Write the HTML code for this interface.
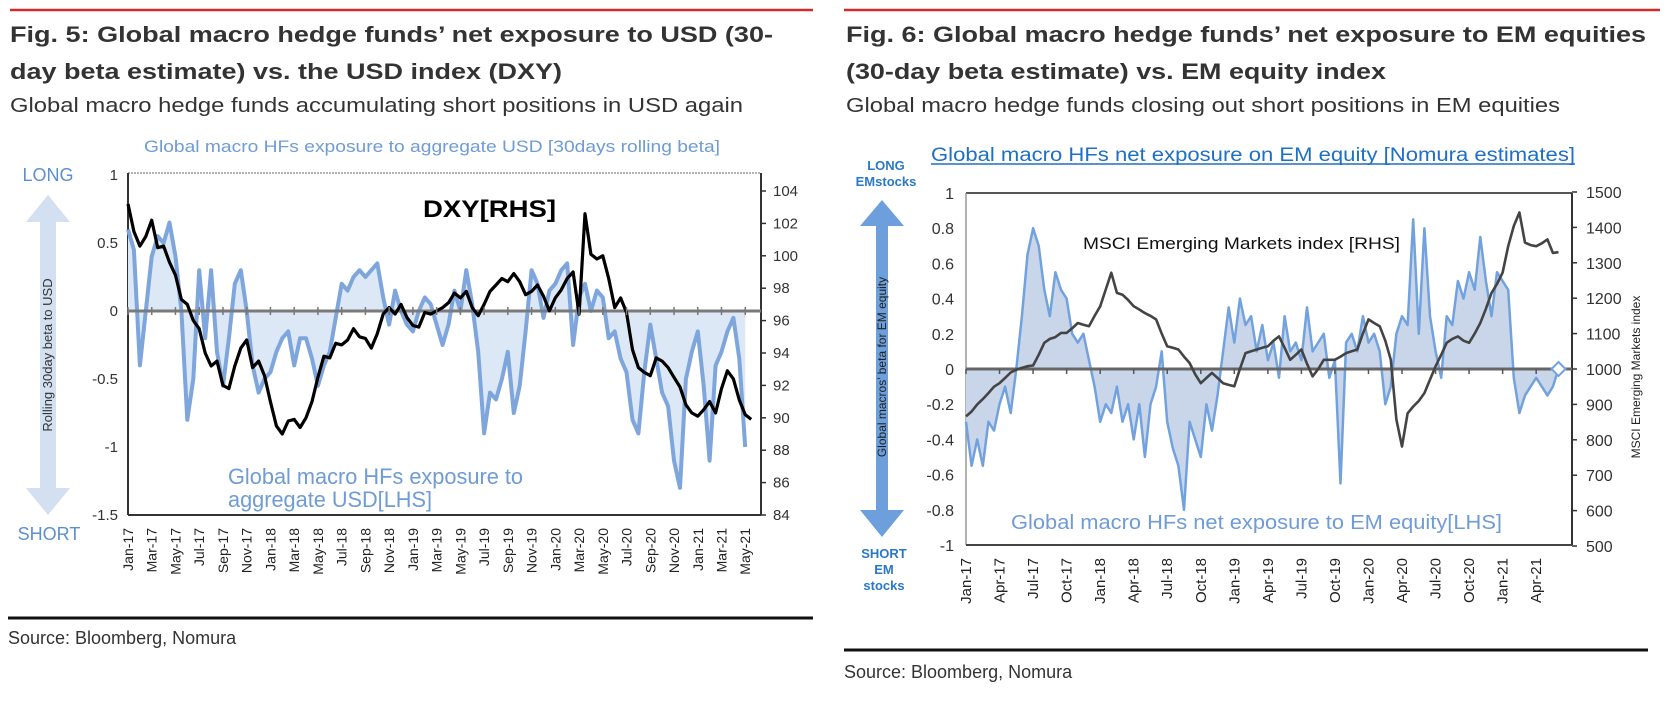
<!DOCTYPE html>
<html><head><meta charset="utf-8"><style>
html,body{margin:0;padding:0;background:#fff;}
svg{display:block;font-family:"Liberation Sans",Arial,sans-serif;}
</style></head><body>
<svg id="root" width="1668" height="702" viewBox="0 0 1668 702" xmlns="http://www.w3.org/2000/svg">
<line x1="10" y1="10" x2="813" y2="10" stroke="#d42a2a" stroke-width="2.5"/>
<text x="10" y="42" font-size="22" font-weight="bold" fill="#333" textLength="763" lengthAdjust="spacingAndGlyphs">Fig. 5: Global macro hedge funds’ net exposure to USD (30-</text>
<text x="10" y="79" font-size="22" font-weight="bold" fill="#333" textLength="552" lengthAdjust="spacingAndGlyphs">day beta estimate) vs. the USD index (DXY)</text>
<text x="10" y="112" font-size="20" fill="#333" textLength="733" lengthAdjust="spacingAndGlyphs">Global macro hedge funds accumulating short positions in USD again</text>
<line x1="844" y1="10" x2="1660" y2="10" stroke="#d42a2a" stroke-width="2.5"/>
<text x="846" y="42" font-size="22" font-weight="bold" fill="#333" textLength="800" lengthAdjust="spacingAndGlyphs">Fig. 6: Global macro hedge funds’ net exposure to EM equities</text>
<text x="846" y="79" font-size="22" font-weight="bold" fill="#333" textLength="540" lengthAdjust="spacingAndGlyphs">(30-day beta estimate) vs. EM equity index</text>
<text x="846" y="112" font-size="20" fill="#333" textLength="714" lengthAdjust="spacingAndGlyphs">Global macro hedge funds closing out short positions in EM equities</text>

<g id="c1"></g>
<g id="c2"></g>

<line x1="8" y1="618" x2="813" y2="618" stroke="#111" stroke-width="3"/>
<text x="8" y="644" font-size="18" fill="#333">Source: Bloomberg, Nomura</text>
<line x1="844" y1="650" x2="1648" y2="650" stroke="#111" stroke-width="3"/>
<text x="844" y="678" font-size="18" fill="#333">Source: Bloomberg, Nomura</text>
</svg>
<script>
const c1Labels = ["Jan-17","Mar-17","May-17","Jul-17","Sep-17","Nov-17","Jan-18","Mar-18","May-18","Jul-18","Sep-18","Nov-18","Jan-19","Mar-19","May-19","Jul-19","Sep-19","Nov-19","Jan-20","Mar-20","May-20","Jul-20","Sep-20","Nov-20","Jan-21","Mar-21","May-21"];
const c1LeftTicks = [1,0.5,0,-0.5,-1,-1.5];
const c1LeftTickText = ["1","0.5","0","-0.5","-1","-1.5"];
const c1RightTicks = [104,102,100,98,96,94,92,90,88,86,84];
const c1Beta = [0.6,0.45,-0.4,0.0,0.4,0.55,0.5,0.65,0.4,0.0,-0.8,-0.5,0.3,-0.2,0.3,-0.3,-0.55,-0.2,0.2,0.3,0.0,-0.4,-0.6,-0.5,-0.45,-0.3,-0.2,-0.15,-0.4,-0.2,-0.2,-0.35,-0.55,-0.4,-0.3,-0.05,0.2,0.15,0.25,0.3,0.25,0.3,0.35,0.1,-0.1,0.15,0.0,-0.1,-0.15,0.0,0.1,0.05,-0.1,-0.25,-0.1,0.15,0.0,0.3,0.05,-0.3,-0.9,-0.6,-0.65,-0.5,-0.3,-0.75,-0.55,-0.15,0.3,0.2,-0.05,0.15,0.2,0.3,0.35,-0.25,0.1,0.2,0.0,0.15,0.1,-0.2,-0.15,-0.35,-0.45,-0.8,-0.9,-0.45,-0.1,-0.35,-0.6,-0.7,-1.1,-1.3,-0.5,-0.3,-0.15,-0.55,-1.1,-0.4,-0.3,-0.15,-0.05,-0.35,-1.0];
const c1Dxy = [103.2,101.5,100.6,101.2,102.2,100.5,100.6,99.6,98.8,97.3,97.0,96.0,95.5,94.0,93.2,93.5,92.0,91.8,93.2,94.3,94.8,93.1,93.5,92.6,91.0,89.5,89.0,89.8,89.9,89.4,90.0,91.0,92.5,93.8,93.7,94.6,94.5,94.8,95.5,95.0,94.9,94.3,95.2,96.4,96.8,96.4,97.0,96.2,95.7,95.6,96.5,96.4,96.6,96.8,97.1,97.7,97.4,97.8,96.8,96.3,97.0,97.8,98.2,98.6,98.4,98.9,98.4,97.6,97.8,98.2,97.5,96.6,97.4,97.9,98.6,99.0,96.4,102.6,100.1,99.8,100.0,98.6,96.8,97.4,96.5,94.2,93.1,92.8,92.6,93.7,93.5,93.1,92.5,91.9,90.8,90.3,90.1,90.5,91.0,90.3,91.8,92.9,92.4,91.1,90.2,89.9];

const c2Labels = ["Jan-17","Apr-17","Jul-17","Oct-17","Jan-18","Apr-18","Jul-18","Oct-18","Jan-19","Apr-19","Jul-19","Oct-19","Jan-20","Apr-20","Jul-20","Oct-20","Jan-21","Apr-21"];
const c2LeftTicks = [1,0.8,0.6,0.4,0.2,0,-0.2,-0.4,-0.6,-0.8,-1];
const c2LeftTickText = ["1","0.8","0.6","0.4","0.2","0","-0.2","-0.4","-0.6","-0.8","-1"];
const c2RightTicks = [1500,1400,1300,1200,1100,1000,900,800,700,600,500];
const c2Beta = [-0.3,-0.55,-0.4,-0.55,-0.3,-0.35,-0.2,-0.1,-0.25,0.0,0.3,0.65,0.8,0.7,0.45,0.3,0.55,0.45,0.4,0.2,0.15,0.2,0.05,-0.1,-0.3,-0.2,-0.25,-0.1,-0.3,-0.2,-0.4,-0.2,-0.5,-0.2,-0.1,0.1,-0.3,-0.45,-0.55,-0.8,-0.3,-0.4,-0.5,-0.2,-0.35,-0.15,0.1,0.35,0.15,0.4,0.25,0.3,0.1,0.25,0.05,0.15,-0.05,0.3,0.1,0.15,0.05,0.35,0.1,0.15,0.2,-0.05,0.05,-0.65,0.15,0.2,0.1,0.3,0.15,0.2,0.1,-0.2,-0.1,0.2,0.3,0.25,0.85,0.2,0.8,0.3,0.1,-0.05,0.3,0.25,0.5,0.4,0.55,0.45,0.75,0.5,0.3,0.55,0.5,0.45,-0.05,-0.25,-0.15,-0.1,-0.05,-0.1,-0.15,-0.1,0.0];
const c2Msci = [866,880,900,915,932,950,960,975,990,998,1003,1008,1010,1040,1074,1085,1090,1102,1102,1115,1130,1125,1121,1150,1177,1225,1272,1215,1210,1195,1177,1168,1158,1150,1140,1100,1064,1060,1055,1035,1017,985,960,975,989,975,960,955,951,1000,1045,1050,1055,1060,1064,1080,1092,1060,1026,1040,1055,1015,979,1000,1026,1026,1026,1035,1045,1050,1055,1100,1140,1130,1121,1080,1026,857,781,875,894,910,932,970,1008,1040,1074,1085,1092,1080,1074,1100,1130,1170,1215,1240,1272,1347,1404,1442,1357,1350,1347,1355,1366,1328,1330];

const NS = "http://www.w3.org/2000/svg";
function mk(parent, tag, attrs){ const e=document.createElementNS(NS,tag); for(const k in attrs) e.setAttribute(k,attrs[k]); parent.appendChild(e); return e; }

(function(){
  const g=document.getElementById('c1');
  const L=128,R=761,T=173,B=515;
  const xOf = m => L + m*11.87;
  const yL = v => 311 - v*136;
  const yR = v => 191 + (104 - v)*16.2;
  let e=mk(g,'line',{x1:L,y1:T,x2:R,y2:T,stroke:'#999','stroke-width':1.5,'stroke-dasharray':'2,1'});
   
  e=mk(g,'line',{x1:L,y1:T,x2:L,y2:B,stroke:'#333','stroke-width':2});
   
  e=mk(g,'line',{x1:R,y1:T,x2:R,y2:B,stroke:'#333','stroke-width':2});
   
  e=mk(g,'line',{x1:L,y1:B,x2:R,y2:B,stroke:'#333','stroke-width':2});
   
  const pts=c1Beta.map((v,i)=>[xOf(i*0.5),yL(v)]);
  let d='M'+pts[0][0]+','+yL(0)+' '+pts.map(p=>'L'+p[0].toFixed(1)+','+p[1].toFixed(1)).join(' ')+' L'+pts[pts.length-1][0]+','+yL(0)+'Z';
  e=mk(g,'path',{d:d,fill:'#dde8f7',stroke:'none'});
   
  e=mk(g,'path',{d:'M'+pts.map(p=>p[0].toFixed(1)+','+p[1].toFixed(1)).join(' L'),fill:'none',stroke:'#7ea6dc','stroke-width':4,'stroke-linejoin':'round'});
   
  e=mk(g,'line',{x1:L,y1:yL(0),x2:R,y2:yL(0),stroke:'#7a7a7a','stroke-width':3});
   
  const dp=c1Dxy.map((v,i)=>xOf(i*0.5).toFixed(1)+','+yR(v).toFixed(1));
  e=mk(g,'path',{d:'M'+dp.join(' L'),fill:'none',stroke:'#000','stroke-width':3.2,'stroke-linejoin':'round'});
   
  c1LeftTicks.forEach((v,i)=>{
    const t=mk(g,'text',{x:L-10,y:yL(v)+5,'font-size':15,'text-anchor':'end',fill:'#333'}); t.textContent=c1LeftTickText[i];
     
  });
  c1RightTicks.forEach(v=>{
    const tk=mk(g,'line',{x1:R,y1:yR(v),x2:R+5,y2:yR(v),stroke:'#333','stroke-width':1.5});
     
    const t=mk(g,'text',{x:R+12,y:yR(v)+5,'font-size':15,fill:'#333'}); t.textContent=String(v);
     
  });
  c1Labels.forEach((s,i)=>{
    const x=xOf(i*2);
    const tk=mk(g,'line',{x1:x,y1:yL(0)-4,x2:x,y2:yL(0)+4,stroke:'#777','stroke-width':1.5});
     
    const t=mk(g,'text',{x:0,y:0,'font-size':14,'text-anchor':'end',fill:'#222',transform:'translate('+(x+5)+',528) rotate(-90)'}); t.textContent=s;
     
  });
  e=mk(g,'polygon',{points:'48,195 70,222 56,222 56,488 70,488 48,515 26,488 40,488 40,222 26,222',fill:'#d3e0f1'});
   
  let t=mk(g,'text',{x:0,y:0,'font-size':13,'text-anchor':'middle',fill:'#333',transform:'translate(52,355) rotate(-90)'}); t.textContent='Rolling 30day beta to USD';
   
  t=mk(g,'text',{x:48,y:181,'font-size':18,'text-anchor':'middle',fill:'#5d8fcf'}); t.textContent='LONG';
   
  t=mk(g,'text',{x:49,y:540,'font-size':18,'text-anchor':'middle',fill:'#5d8fcf'}); t.textContent='SHORT';
   
  t=mk(g,'text',{x:144,y:152,'font-size':17,fill:'#6f9bd6',textLength:576,lengthAdjust:'spacingAndGlyphs'}); t.textContent='Global macro HFs exposure to aggregate USD [30days rolling beta]';
   
  t=mk(g,'text',{x:423,y:217,'font-size':24,'font-weight':'bold',fill:'#000',textLength:133,lengthAdjust:'spacingAndGlyphs'}); t.textContent='DXY[RHS]';
   
  t=mk(g,'text',{x:228,y:484,'font-size':22,fill:'#6f9bd6',textLength:295,lengthAdjust:'spacingAndGlyphs'}); t.textContent='Global macro HFs exposure to';
   
  t=mk(g,'text',{x:228,y:507,'font-size':22,fill:'#6f9bd6',textLength:204,lengthAdjust:'spacingAndGlyphs'}); t.textContent='aggregate USD[LHS]';
   
})();

(function(){
  const g=document.getElementById('c2');
  const L=966,R=1572,T=193,B=545;
  const xOf = m => L + m*11.18;
  const yL = v => 369 - v*176;
  const yR = v => 369 - (v-1000)*0.354;
  let e=mk(g,'line',{x1:L,y1:T,x2:R,y2:T,stroke:'#555','stroke-width':2});
   
  e=mk(g,'line',{x1:L,y1:T,x2:L,y2:B,stroke:'#999','stroke-width':1.5});
   
  e=mk(g,'line',{x1:R,y1:T,x2:R,y2:B,stroke:'#333','stroke-width':2});
   
  e=mk(g,'line',{x1:L,y1:B,x2:R,y2:B,stroke:'#444','stroke-width':2});
   
  const pts=c2Beta.map((v,i)=>[xOf(i*0.5),yL(v)]);
  let d='M'+pts[0][0]+','+yL(0)+' '+pts.map(p=>'L'+p[0].toFixed(1)+','+p[1].toFixed(1)).join(' ')+' L'+pts[pts.length-1][0]+','+yL(0)+'Z';
  e=mk(g,'path',{d:d,fill:'#c9d6ea',stroke:'none'});
   
  e=mk(g,'path',{d:'M'+pts.map(p=>p[0].toFixed(1)+','+p[1].toFixed(1)).join(' L'),fill:'none',stroke:'#72a2de','stroke-width':2.5,'stroke-linejoin':'round'});
   
  e=mk(g,'line',{x1:L,y1:yL(0),x2:R,y2:yL(0),stroke:'#666','stroke-width':3});
   
  const mp=c2Msci.map((v,i)=>xOf(i*0.5).toFixed(1)+','+yR(v).toFixed(1));
  e=mk(g,'path',{d:'M'+mp.join(' L'),fill:'none',stroke:'#444','stroke-width':2.6,'stroke-linejoin':'round'});
   
  const lx=xOf((c2Beta.length-1)*0.5), ly=yL(c2Beta[c2Beta.length-1]);
  e=mk(g,'polygon',{points:(lx-7)+','+ly+' '+lx+','+(ly-7)+' '+(lx+7)+','+ly+' '+lx+','+(ly+7),fill:'#fff',stroke:'#72a2de','stroke-width':2});
   
  c2LeftTicks.forEach((v,i)=>{
    const t=mk(g,'text',{x:L-12,y:yL(v)+6,'font-size':16,'text-anchor':'end',fill:'#333'}); t.textContent=c2LeftTickText[i];
     
  });
  c2RightTicks.forEach(v=>{
    const tk=mk(g,'line',{x1:R,y1:yR(v),x2:R+5,y2:yR(v),stroke:'#333','stroke-width':1.5});
     
    const t=mk(g,'text',{x:R+14,y:yR(v)+6,'font-size':16,fill:'#333'}); t.textContent=String(v);
     
  });
  c2Labels.forEach((s,i)=>{
    const x=xOf(i*3);
    const tk=mk(g,'line',{x1:x,y1:yL(0),x2:x,y2:yL(0)+5,stroke:'#555','stroke-width':1.5});
     
    const t=mk(g,'text',{x:0,y:0,'font-size':15,'text-anchor':'end',fill:'#222',transform:'translate('+(x+5)+',558) rotate(-90)'}); t.textContent=s;
     
  });
  e=mk(g,'polygon',{points:'882,200 904,226 888,226 888,510 904,510 882,537 860,510 876,510 876,226 860,226',fill:'#6d9fdc'});
   
  let t=mk(g,'text',{x:0,y:0,'font-size':12,'text-anchor':'middle',fill:'#222',transform:'translate(886,367) rotate(-90)'}); t.textContent='Global macros’ beta for EM equity';
   
  t=mk(g,'text',{x:0,y:0,'font-size':12,'text-anchor':'middle',fill:'#222',transform:'translate(1640,377) rotate(-90)'}); t.textContent='MSCI Emerging Markets index';
   
  [['LONG',170],['EMstocks',186]].forEach(a=>{
    const q=mk(g,'text',{x:886,y:a[1],'font-size':13,'font-weight':'bold','text-anchor':'middle',fill:'#2a78c8'}); q.textContent=a[0];
     
  });
  [['SHORT',558],['EM',574],['stocks',590]].forEach(a=>{
    const q=mk(g,'text',{x:884,y:a[1],'font-size':13,'font-weight':'bold','text-anchor':'middle',fill:'#2a78c8'}); q.textContent=a[0];
     
  });
  t=mk(g,'text',{x:931,y:161,'font-size':19,fill:'#1e6fc6',textLength:644,lengthAdjust:'spacingAndGlyphs'}); t.textContent='Global macro HFs net exposure on EM equity [Nomura estimates]';
   
  e=mk(g,'line',{x1:931,y1:164,x2:1575,y2:164,stroke:'#1e6fc6','stroke-width':1.5});
   
  t=mk(g,'text',{x:1083,y:249,'font-size':17,fill:'#111',textLength:317,lengthAdjust:'spacingAndGlyphs'}); t.textContent='MSCI Emerging Markets index [RHS]';
   
  t=mk(g,'text',{x:1011,y:529,'font-size':20,fill:'#6f9bd6',textLength:491,lengthAdjust:'spacingAndGlyphs'}); t.textContent='Global macro HFs net exposure to EM equity[LHS]';
   
})();
</script>
</body></html>
